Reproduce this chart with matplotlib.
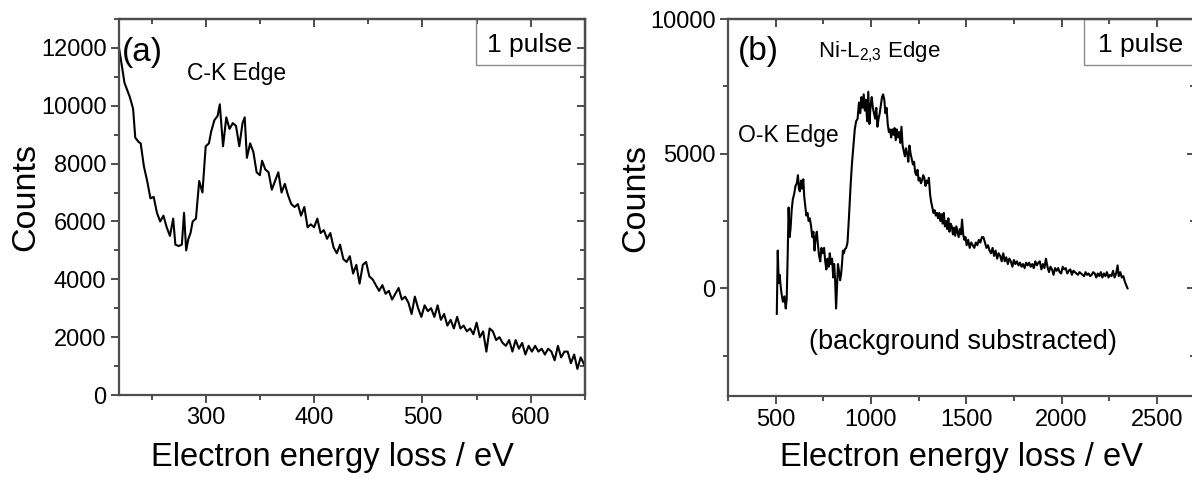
import numpy as np
import matplotlib
matplotlib.use("Agg")
import matplotlib.pyplot as plt
from matplotlib.ticker import MultipleLocator, FixedLocator
from matplotlib.patches import Rectangle

plt.rcParams['font.family'] = ['Liberation Sans', 'DejaVu Sans']
plt.rcParams['mathtext.fontset'] = 'custom'
plt.rcParams['mathtext.rm'] = 'Liberation Sans'
plt.rcParams['mathtext.it'] = 'Liberation Sans:italic'

# panel (a): C-K edge, raw counts
a_ev = [220, 223, 225, 227, 230, 233, 235, 238, 240, 243,
        246, 249, 252, 255, 258, 261, 264, 267, 270, 272,
        275, 278, 280, 282, 284, 286, 288, 291, 294, 297,
        300, 303, 305, 308, 311, 313, 316, 319, 322, 325,
        328, 331, 334, 336, 338, 341, 344, 347, 350, 352,
        355, 358, 361, 364, 367, 370, 373, 376, 379, 382,
        385, 388, 391, 394, 397, 400, 403, 406, 409, 412,
        415, 418, 421, 424, 427, 430, 433, 436, 439, 442,
        445, 448, 451, 454, 457, 460, 463, 466, 469, 472,
        475, 478, 481, 484, 487, 490, 493, 496, 499, 502,
        505, 508, 511, 514, 517, 520, 523, 526, 529, 532,
        535, 538, 541, 544, 547, 550, 553, 556, 559, 562,
        565, 568, 571, 574, 577, 580, 583, 586, 589, 592,
        595, 598, 601, 604, 607, 610, 613, 616, 619, 622,
        625, 628, 631, 634, 637, 640, 643, 646, 650]
a_counts = [12000, 11300, 10800, 10600, 10300, 9900, 8900, 8750, 8700, 7900,
            7400, 6800, 6850, 6300, 6000, 6200, 5800, 5500, 6100, 5200,
            5150, 5200, 6300, 5000, 5400, 5600, 6000, 6100, 7400, 7000,
            8600, 8700, 9100, 9500, 9650, 10050, 8600, 9600, 9200, 9400,
            9300, 8600, 9400, 9600, 8200, 8700, 8400, 7700, 7600, 8100,
            7800, 7700, 7100, 7400, 7700, 7000, 7300, 6900, 6600, 6500,
            6600, 6200, 6500, 5800, 5900, 5800, 6100, 5600, 5700, 5400,
            5600, 5100, 4900, 5200, 4700, 4600, 4800, 4200, 4500, 3850,
            4500, 4600, 4100, 4000, 3800, 3600, 3800, 3500, 3600, 3300,
            3500, 3700, 3300, 3400, 3200, 2800, 3400, 3000, 2700, 3100,
            2900, 3000, 2700, 3100, 2600, 2800, 2400, 2600, 2300, 2700,
            2300, 2400, 2200, 2300, 2100, 2500, 2000, 2200, 1500, 2300,
            2200, 1900, 2000, 1800, 1700, 1900, 1500, 1900, 1600, 1800,
            1400, 1700, 1500, 1700, 1500, 1600, 1400, 1600, 1500, 1200,
            1700, 1300, 1500, 1500, 1100, 1400, 900, 1300, 1000]

# panel (b): O-K and Ni-L2,3 edges, background subtracted
b_ev = [506, 511, 516, 521, 526, 531, 538, 546, 553, 558,
        563, 568, 573, 578, 584, 590, 597, 604, 611, 617,
        622, 627, 633, 639, 645, 650, 656, 661, 667, 673,
        679, 686, 692, 698, 704, 710, 716, 722, 728, 734,
        740, 747, 754, 760, 766, 772, 778, 784, 790, 796,
        802, 807, 812, 817, 822, 827, 833, 838, 843, 848,
        853, 858, 863, 870, 877, 885, 893, 900, 908, 915,
        922, 930, 937, 944, 950, 956, 962, 968, 973, 980,
        986, 992, 998, 1004, 1010, 1016, 1022, 1028, 1034, 1040,
        1046, 1052, 1058, 1064, 1070, 1076, 1082, 1088, 1094, 1100,
        1106, 1112, 1118, 1124, 1130, 1136, 1142, 1148, 1154, 1160,
        1166, 1172, 1178, 1184, 1190, 1196, 1202, 1208, 1214, 1220,
        1226, 1232, 1238, 1244, 1250, 1256, 1262, 1268, 1274, 1280,
        1286, 1292, 1298, 1304, 1310, 1316, 1322, 1328, 1334, 1340,
        1346, 1352, 1358, 1364, 1370, 1376, 1382, 1388, 1394, 1400,
        1406, 1412, 1418, 1424, 1430, 1436, 1442, 1448, 1454, 1460,
        1466, 1472, 1478, 1484, 1490, 1496, 1502, 1510, 1518, 1526,
        1534, 1542, 1550, 1558, 1566, 1574, 1582, 1590, 1598, 1606,
        1614, 1622, 1630, 1638, 1646, 1654, 1662, 1670, 1678, 1686,
        1694, 1702, 1710, 1718, 1726, 1734, 1742, 1750, 1758, 1766,
        1774, 1782, 1790, 1798, 1806, 1814, 1822, 1830, 1838, 1846,
        1854, 1862, 1870, 1878, 1886, 1894, 1902, 1910, 1918, 1926,
        1934, 1942, 1950, 1958, 1966, 1974, 1982, 1990, 1998, 2006,
        2014, 2022, 2030, 2038, 2046, 2054, 2062, 2070, 2078, 2086,
        2094, 2102, 2110, 2118, 2126, 2134, 2142, 2150, 2158, 2166,
        2174, 2182, 2190, 2198, 2206, 2214, 2222, 2230, 2238, 2246,
        2254, 2262, 2270, 2278, 2286, 2294, 2300, 2308, 2316, 2324,
        2332, 2340, 2346]
b_counts = [-950, 1400, 200, 500, 100, -200, -500, -300, -750, -400,
            1200, 3000, 1900, 2200, 2900, 3300, 3500, 3800, 3900, 4200,
            3700, 3600, 4000, 3700, 4050, 3400, 3000, 2700, 2800, 2500,
            2600, 2300, 1900, 2100, 1400, 1900, 2100, 1600, 1200, 1000,
            1500, 1300, 1500, 1000, 700, 1100, 800, 1300, 900, 1100,
            400, 900, 300, -750, 100, 900, 600, 300, 500, 900,
            1400, 1300, 1450, 1500, 1700, 2700, 3800, 4600, 5300, 5900,
            6200, 6300, 6900, 6500, 7100, 6700, 7200, 6600, 7000, 6200,
            7300, 6100, 6800, 7100, 6700, 6500, 6300, 6700, 6000, 6300,
            6500, 6800, 7100, 7200, 7000, 6500, 6700, 6100, 5800, 5900,
            5600, 5900, 5700, 5950, 5500, 5900, 5600, 5800, 5400, 6000,
            5300, 5100, 4900, 5200, 5000, 4700, 5300, 5000, 4800, 4600,
            4700, 4300, 4200, 4400, 4000, 4100, 3900, 4000, 4200, 4100,
            3800, 4000, 3900, 4100, 3500, 3200, 3000, 2800, 2900, 2700,
            2800, 2600, 2800, 2500, 2750, 2400, 2800, 2300, 2500, 2200,
            2600, 2100, 2400, 2300, 2000, 2250, 1950, 2300, 2100, 1900,
            2200, 2000, 2550, 2000, 1800, 1900, 1600, 1800, 1500, 1700,
            1600, 1500, 1700, 1600, 1800, 1700, 1900, 1900, 1700, 1500,
            1600, 1400, 1300, 1500, 1200, 1400, 1100, 1300, 1200, 1000,
            1300, 1000, 1150, 900, 1100, 1000, 800, 1050, 900, 1000,
            850, 950, 800, 900, 750, 950, 850, 950, 800, 900,
            750, 1000, 850, 950, 1000, 700, 900, 750, 1100, 800,
            600, 800, 700, 500, 750, 650, 750, 600, 550, 800,
            700, 750, 550, 650, 700, 500, 650, 600, 550, 500,
            600, 550, 500, 450, 600, 500, 550, 450, 500, 600,
            550, 400, 550, 450, 600, 400, 550, 450, 600, 400,
            500, 450, 650, 400, 550, 850, 450, 600, 400, 450,
            250, 100, 0]

a_xticks = [300, 400, 500, 600]
a_yticks = [0, 2000, 4000, 6000, 8000, 10000, 12000]
b_xticks = [500, 1000, 1500, 2000, 2500]
b_yticks = [0, 5000, 10000]

SPINE = '#4d4d4d'
TICKFS = 17
LABELFS = 23.5


def style_axes(ax, xmaj, xmin_step, ymaj, ymin_step):
    for s in ax.spines.values():
        s.set_color(SPINE)
        s.set_linewidth(1.6)
    ax.xaxis.set_major_locator(FixedLocator(xmaj))
    ax.xaxis.set_minor_locator(MultipleLocator(xmin_step))
    ax.yaxis.set_major_locator(FixedLocator(ymaj))
    ax.yaxis.set_minor_locator(MultipleLocator(ymin_step))
    ax.tick_params(which='both', direction='out', color=SPINE, width=1.4,
                   labelsize=TICKFS, pad=3)
    ax.tick_params(which='major', length=6)
    ax.tick_params(which='minor', length=3.5)
    # mirrored ticks pointing inward on top / right
    sx = ax.secondary_xaxis('top')
    sx.xaxis.set_major_locator(FixedLocator(xmaj))
    sx.xaxis.set_minor_locator(MultipleLocator(xmin_step))
    sx.tick_params(which='both', direction='in', color=SPINE, width=1.4,
                   labeltop=False)
    sx.tick_params(which='major', length=6)
    sx.tick_params(which='minor', length=3.5)
    sx.spines['top'].set_color(SPINE)
    sx.spines['top'].set_linewidth(1.6)
    sy = ax.secondary_yaxis('right')
    sy.yaxis.set_major_locator(FixedLocator(ymaj))
    sy.yaxis.set_minor_locator(MultipleLocator(ymin_step))
    sy.tick_params(which='both', direction='in', color=SPINE, width=1.4,
                   labelright=False)
    sy.tick_params(which='major', length=6)
    sy.tick_params(which='minor', length=3.5)
    sy.spines['right'].set_color(SPINE)
    sy.spines['right'].set_linewidth(1.6)


fig = plt.figure(figsize=(11.92, 4.82), dpi=100)

# ---- panel (a)
ax1 = fig.add_axes([119/1192, 87/482, 466/1192, 376/482])
ax1.plot(a_ev, a_counts, color='black', lw=1.5)
ax1.set_xlim(220, 650)
ax1.set_ylim(0, 13000)
style_axes(ax1, a_xticks, 50, a_yticks, 1000)
ax1.set_xlabel('Electron energy loss / eV', fontsize=LABELFS)
ax1.xaxis.set_label_coords(0.457, -0.125)
ax1.set_ylabel('Counts', fontsize=LABELFS + 1, va='center')
ax1.yaxis.set_label_coords(-0.2, 0.527)
ax1.text(0.006, 0.91, '(a)', transform=ax1.transAxes, fontsize=24,
         ha='left', va='center')
ax1.text(0.146, 0.838, 'C-K Edge', transform=ax1.transAxes, fontsize=16.5,
         ha='left', va='baseline')
ax1.add_patch(Rectangle((0.766, 0.878), 0.234, 0.122, transform=ax1.transAxes,
                        fill=False, edgecolor='#8c8c8c', lw=1.0, clip_on=False))
ax1.text(0.882, 0.912, '1 pulse', transform=ax1.transAxes, fontsize=19,
         ha='center', va='baseline')

# ---- panel (b)
ax2 = fig.add_axes([728/1192, 86/482, 467/1192, 377/482])
ax2.plot(b_ev, b_counts, color='black', lw=1.5)
ax2.set_xlim(250, 2700)
ax2.set_ylim(-4000, 10000)
style_axes(ax2, b_xticks, 250, b_yticks, 2500)
ax2.set_xlabel('Electron energy loss / eV', fontsize=LABELFS)
ax2.xaxis.set_label_coords(0.5, -0.122)
ax2.set_ylabel('Counts', fontsize=LABELFS + 1, va='center')
ax2.yaxis.set_label_coords(-0.197, 0.525)
ax2.text(0.021, 0.915, '(b)', transform=ax2.transAxes, fontsize=24,
         ha='left', va='center')
ax2.text(0.193, 0.897, 'Ni-L$_{2{,}3}$ Edge', transform=ax2.transAxes,
         fontsize=16, ha='left', va='baseline')
ax2.text(0.021, 0.674, 'O-K Edge', transform=ax2.transAxes, fontsize=16.5,
         ha='left', va='baseline')
ax2.text(0.503, 0.143, '(background substracted)', transform=ax2.transAxes,
         fontsize=19.5, ha='center', va='center')
ax2.add_patch(Rectangle((0.762, 0.878), 0.238, 0.122, transform=ax2.transAxes,
                        fill=False, edgecolor='#8c8c8c', lw=1.0, clip_on=False))
ax2.text(0.884, 0.912, '1 pulse', transform=ax2.transAxes, fontsize=19,
         ha='center', va='baseline')

fig.savefig('out.png', dpi=100)
